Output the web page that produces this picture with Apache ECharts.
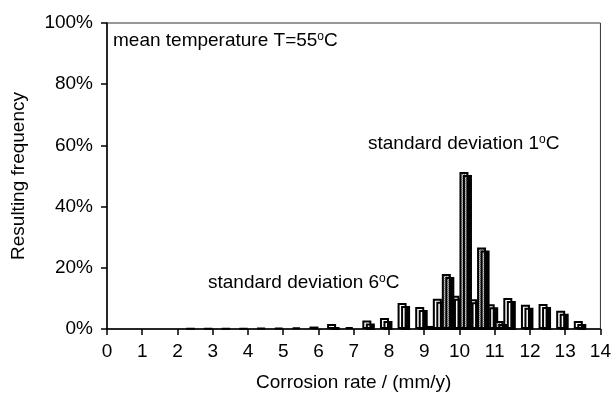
<!DOCTYPE html>
<html>
<head>
<meta charset="utf-8">
<script src="https://cdn.jsdelivr.net/npm/echarts@6/dist/echarts.min.js"></script>
<style>
  html, body { margin: 0; padding: 0; background: #fff; }
  #chart { width: 614px; height: 400px; }
</style>
</head>
<body>
<div id="chart"></div>
<script>
// Corrosion-rate bins (mm/y), one every 0.5
const categories = ['0','0.5','1','1.5','2','2.5','3','3.5','4','4.5','5','5.5','6','6.5','7','7.5',
                    '8','8.5','9','9.5','10','10.5','11','11.5','12','12.5','13','13.5','14'];
// Resulting frequency (%) for standard deviation 6 °C (open bars)
const sd6 = [0, 0, 0, 0, 0, 0.1, 0.2, 0.2, 0.2, 0.3, 0.4, 0.5, 0.8, 1.6, 0.6, 2.8,
             3.6, 8.5, 7.2, 9.9, 10.9, 9.7, 8.1, 10.1, 7.9, 8.2, 6.0, 2.6, 0];
// Resulting frequency (%) for standard deviation 1 °C (stippled bars)
const sd1 = [0, 0, 0, 0, 0, 0, 0, 0, 0, 0, 0, 0, 0, 0, 0, 0,
             0, 0, 1.0, 18.0, 51.3, 26.6, 2.6, 0, 0, 0, 0, 0, 0];
const yTicks = { min: 0, max: 100, step: 20 };

const FONT = "'Liberation Sans', Arial, sans-serif";

// stippled grey fill
function stipple() {
  const c = document.createElement('canvas');
  c.width = 2; c.height = 2;
  const g = c.getContext('2d');
  g.fillStyle = '#cfcfcf'; g.fillRect(0, 0, 2, 2);
  g.fillStyle = '#8a8a8a'; g.fillRect(0, 0, 1, 1); g.fillRect(1, 1, 1, 1);
  return c;
}

const barStyle = {
  borderColor: '#000',
  borderWidth: 2,
  shadowColor: '#000',
  shadowBlur: 0,
  shadowOffsetX: 3.5,
  shadowOffsetY: 3
};

const chart = echarts.init(document.getElementById('chart'), null, { renderer: 'canvas' });

const richDeg = (txt) => ({
  type: 'text',
  style: {
    text: txt,
    font: '19px ' + FONT,
    fill: '#000',
    rich: {
      a: { fontSize: 19, fontFamily: FONT, color: '#000' },
      s: { fontSize: 12, fontFamily: FONT, color: '#000', verticalAlign: 'top', lineHeight: 14 }
    },
    textVerticalAlign: 'middle'
  }
});

chart.setOption({
  animation: false,
  backgroundColor: '#fff',
  textStyle: { fontFamily: FONT, color: '#000' },
  grid: { left: 107, right: 13, top: 23, bottom: 71, show: true, borderColor: '#333', borderWidth: 1, backgroundColor: 'transparent' },
  xAxis: {
    type: 'category',
    z: 5,
    data: categories,
    boundaryGap: false,
    name: 'Corrosion rate / (mm/y)',
    nameLocation: 'middle',
    nameGap: 44,
    nameTextStyle: { fontSize: 19, fontFamily: FONT, color: '#000' },
    axisLine: { show: true, lineStyle: { color: '#000', width: 1.5 } },
    axisTick: { show: true, interval: 1, length: 6, lineStyle: { color: '#000', width: 1.5 } },
    axisLabel: { interval: 1, margin: 13, fontSize: 19, fontFamily: FONT, color: '#000' },
    splitLine: { show: false }
  },
  yAxis: {
    type: 'value',
    z: 5,
    min: yTicks.min,
    max: yTicks.max,
    interval: yTicks.step,
    name: 'Resulting frequency',
    nameLocation: 'middle',
    nameGap: 79,
    nameTextStyle: { fontSize: 19, fontFamily: FONT, color: '#000' },
    axisLine: { show: true, lineStyle: { color: '#000', width: 1.5 } },
    axisTick: { show: true, length: 6, lineStyle: { color: '#000', width: 1.5 } },
    axisLabel: { formatter: '{value}%', margin: 14, fontSize: 19, fontFamily: FONT, color: '#000' },
    splitLine: { show: false }
  },
  series: [
    {
      name: 'standard deviation 6°C',
      type: 'bar',
      data: sd6.map(v => (v > 0 ? v : '-')),
      barWidth: 9,
      barGap: '0%',
      itemStyle: Object.assign({ color: '#fff' }, barStyle)
    },
    {
      name: 'standard deviation 1°C',
      type: 'bar',
      data: sd1.map(v => (v > 0 ? v : '-')),
      barWidth: 9,
      barGap: '0%',
      itemStyle: Object.assign({ color: { image: stipple(), repeat: 'repeat' } }, barStyle)
    }
  ],
  graphic: [
    // keeps the bar shadows from spilling under the baseline
    { type: 'rect', z: 3, shape: { x: 108, y: 330, width: 494, height: 8 }, style: { fill: '#fff' } },
    Object.assign(richDeg('{a|mean temperature T=55}{s|o}{a|C}'), { left: 113, top: 31 }),
    Object.assign(richDeg('{a|standard deviation 1}{s|o}{a|C}'), { left: 368, top: 134 }),
    Object.assign(richDeg('{a|standard deviation 6}{s|o}{a|C}'), { left: 208, top: 273 })
  ]
});
</script>
</body>
</html>
